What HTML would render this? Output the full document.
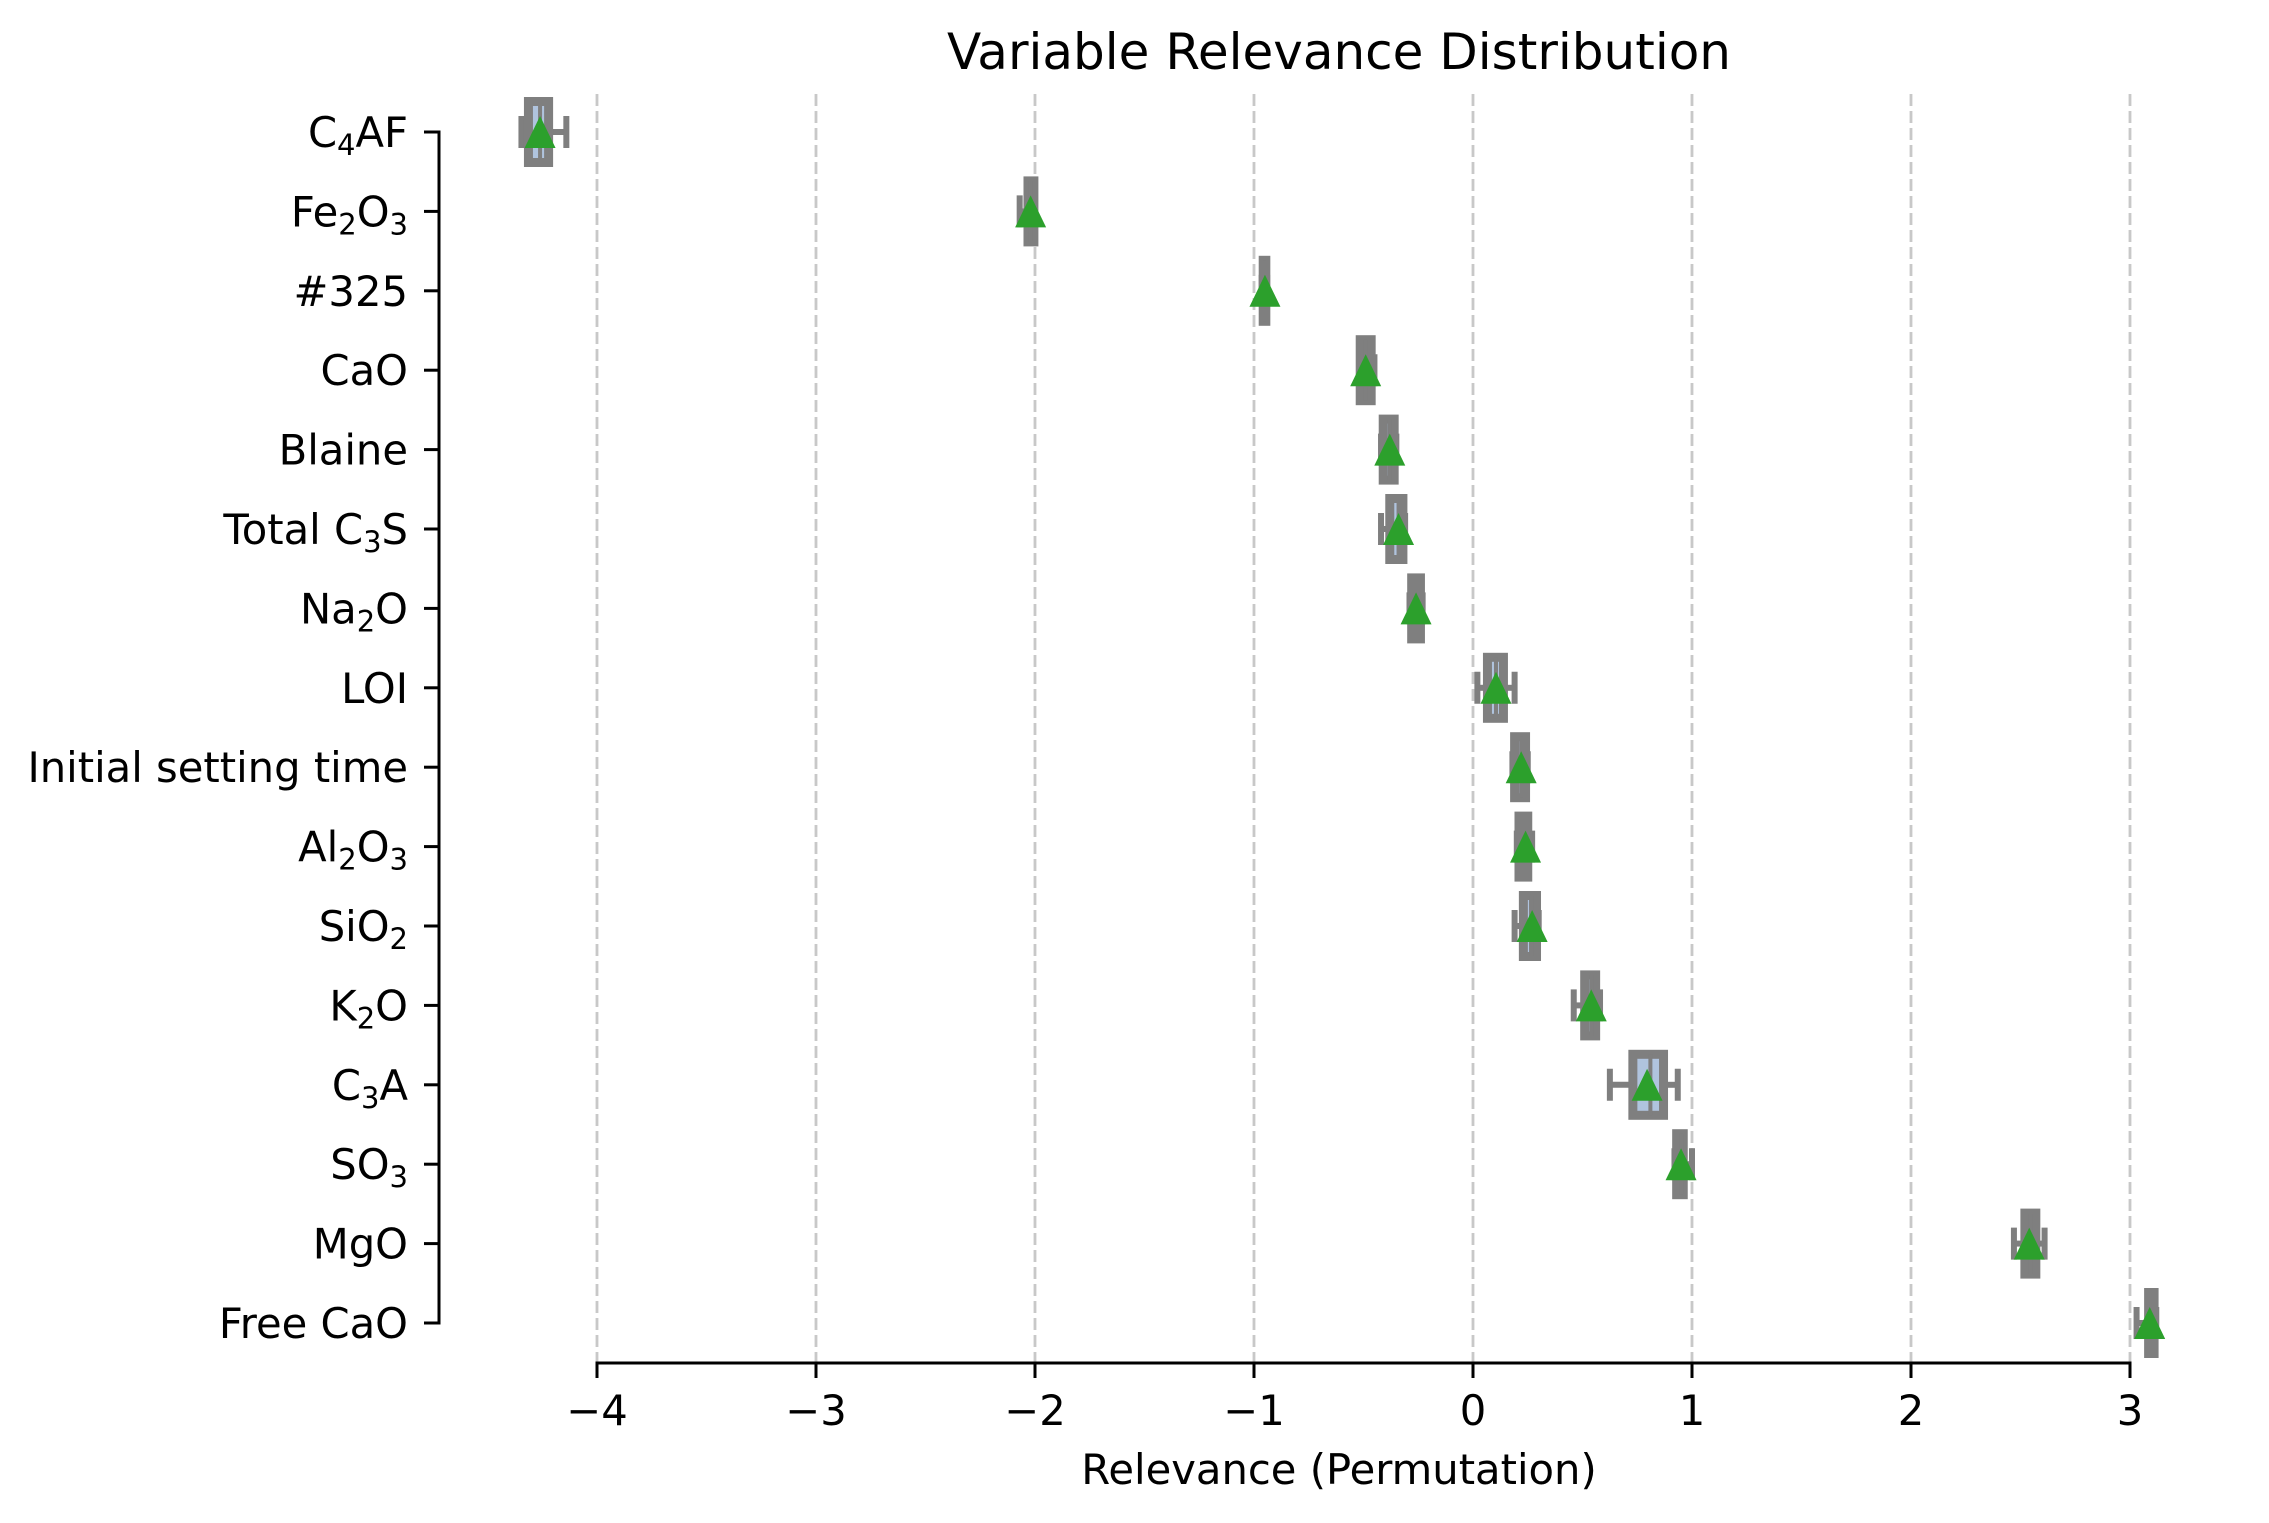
<!DOCTYPE html>
<html><head><meta charset="utf-8"><style>
html,body{margin:0;padding:0;background:#fff;}
svg{display:block;font-family:"DejaVu Sans","Liberation Sans",sans-serif;}
</style></head><body>
<svg id="chart" width="2269" height="1523" viewBox="0 0 2269 1523" xmlns="http://www.w3.org/2000/svg">
<rect width="2269" height="1523" fill="#fff"/>
<text x="1339" y="69" font-size="50" text-anchor="middle" fill="#000">Variable Relevance Distribution</text>
<text x="1339" y="1484" font-size="41.7" text-anchor="middle" fill="#000">Relevance (Permutation)</text>
<g id="grid"></g><g id="axes"></g><g id="boxes"></g>
</svg>
<script>
const categories = ["C4AF","Fe2O3","#325","CaO","Blaine","Total C3S","Na2O","LOI","Initial setting time","Al2O3","SiO2","K2O","C3A","SO3","MgO","Free CaO"];
const whiskerLow  = [-4.345,-2.07,-0.965,-0.52,-0.42,-0.42,-0.29,0.02,0.18,0.20,0.19,0.46,0.625,0.92,2.47,3.03];
const q1Values    = [-4.313,-2.032,-0.958,-0.515,-0.41,-0.38,-0.28,0.066,0.19,0.21,0.23,0.51,0.73,0.93,2.52,3.085];
const medianVals  = [-4.26,-2.02,-0.952,-0.49,-0.38,-0.34,-0.26,0.105,0.22,0.235,0.265,0.54,0.81,0.95,2.545,3.095];
const q3Values    = [-4.221,-2.005,-0.946,-0.465,-0.36,-0.32,-0.24,0.139,0.24,0.25,0.29,0.56,0.87,0.96,2.57,3.11];
const whiskerHigh = [-4.14,-2.0,-0.94,-0.45,-0.35,-0.31,-0.23,0.19,0.25,0.27,0.30,0.58,0.935,1.0,2.61,3.12];
const meanValues  = [-4.26,-2.02,-0.95,-0.49,-0.38,-0.34,-0.26,0.105,0.22,0.24,0.27,0.54,0.795,0.95,2.54,3.09];
const xTicks = [-4,-3,-2,-1,0,1,2,3];
const xTickLabels = ["\u22124","\u22123","\u22122","\u22121","0","1","2","3"];

const NS="http://www.w3.org/2000/svg";
function xs(v){return 1473+219*v;}
function ys(i){return 132+79.4*i;}
function mk(tag,attrs,parent){const e=document.createElementNS(NS,tag);for(const k in attrs)e.setAttribute(k,attrs[k]);parent.appendChild(e);return e;}
const grid=document.getElementById('grid'),axes=document.getElementById('axes'),boxes=document.getElementById('boxes');
const GRAY="#7f7f7f";
xTicks.forEach((t,k)=>{
  const g=mk('line',{x1:xs(t),x2:xs(t),y1:94,y2:1363,stroke:"#c8c8c8","stroke-width":2.8,"stroke-dasharray":"12,5"},grid);
  
  
  const tk=mk('line',{x1:xs(t),x2:xs(t),y1:1363,y2:1378,stroke:"#000","stroke-width":3},axes);
  
  
  const tl=mk('text',{x:xs(t),y:1425,"font-size":41.7,"text-anchor":"middle",fill:"#000"},axes);
  tl.textContent=xTickLabels[k];
  
  
});
const xsp=mk('line',{x1:xs(xTicks[0]),x2:xs(xTicks[xTicks.length-1]),y1:1363,y2:1363,stroke:"#000","stroke-width":3,"stroke-linecap":"square"},axes);


const ysp=mk('line',{x1:439,x2:439,y1:ys(0),y2:ys(categories.length-1),stroke:"#000","stroke-width":3,"stroke-linecap":"square"},axes);



function label(t,el){
  if(t.startsWith('#')||!/\d/.test(t)){el.textContent=t;return;}
  const parts=t.split(/(\d)/).filter(s=>s!=="");
  let lowered=false;
  parts.forEach(p=>{
    const ts=document.createElementNS(NS,'tspan');
    if(/^\d$/.test(p)){ts.setAttribute('font-size','29');ts.setAttribute('dy','8');lowered=true;}
    else if(lowered){ts.setAttribute('dy','-8');lowered=false;}
    ts.textContent=p;el.appendChild(ts);
  });
}
categories.forEach((c,i)=>{
  const y=ys(i);
  const tk=mk('line',{x1:424,x2:439,y1:y,y2:y,stroke:"#000","stroke-width":3},axes);
  
  
  const tl=mk('text',{x:408,y:y+15,"font-size":41.7,"text-anchor":"end",fill:"#000"},axes);
  label(c,tl);
  
  
  const g=mk('g',{},boxes);
  
  
  const h=61, ch=32;
  mk('line',{x1:xs(whiskerLow[i]),x2:xs(q1Values[i]),y1:y,y2:y,stroke:GRAY,"stroke-width":6},g);
  mk('line',{x1:xs(q3Values[i]),x2:xs(whiskerHigh[i]),y1:y,y2:y,stroke:GRAY,"stroke-width":6},g);
  mk('line',{x1:xs(whiskerLow[i]),x2:xs(whiskerLow[i]),y1:y-ch/2,y2:y+ch/2,stroke:GRAY,"stroke-width":6},g);
  mk('line',{x1:xs(whiskerHigh[i]),x2:xs(whiskerHigh[i]),y1:y-ch/2,y2:y+ch/2,stroke:GRAY,"stroke-width":6},g);
  mk('rect',{x:xs(q1Values[i]),y:y-h/2,width:Math.max(0.5,xs(q3Values[i])-xs(q1Values[i])),height:h,fill:"#b0c4de",stroke:GRAY,"stroke-width":9},g);
  mk('line',{x1:xs(medianVals[i]),x2:xs(medianVals[i]),y1:y-h/2,y2:y+h/2,stroke:GRAY,"stroke-width":4},g);
  const mx=xs(meanValues[i]);
  const tri=mk('polygon',{points:`${mx},${y-16} ${mx-15.5},${y+16} ${mx+15.5},${y+16}`,fill:"#2ca02c"},g);
  
  
});
</script>
</body></html>
